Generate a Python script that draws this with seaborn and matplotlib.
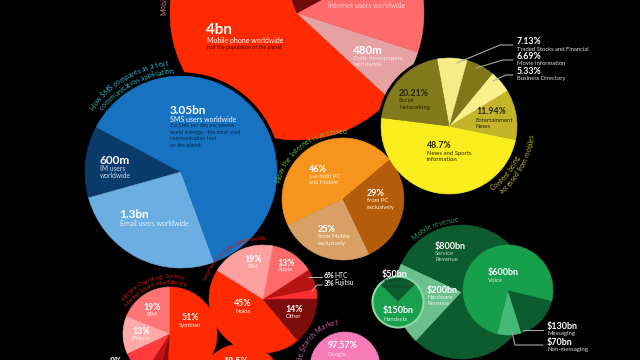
import numpy as np
import matplotlib
matplotlib.use("Agg")
import matplotlib.pyplot as plt
from matplotlib.patches import Circle
import seaborn as sns

media_labels = ["Mobile phones", "Daily newspapers", "Internet users", "Other"]
media_values = [4000, 480, 900, 1600]          # millions

sms_labels = ["IM", "Email", "SMS"]
sms_values = [600, 1300, 3050]                 # millions of users

access_labels = ["PC and Mobile", "Mobile only", "PC only"]
access_values = [46, 25, 29]                   # %

content_labels = ["News and Sports", "Entertainment News", "Business Directory",
                  "Movie Information", "Traded Stocks and Financial", "Social Networking"]
content_values = [48.7, 11.94, 5.33, 6.69, 7.13, 20.21]

revenue_labels = ["Hardware", "Service"]
revenue_values = [200, 800]                    # $bn
hardware_labels = ["Network Infrastructure", "Handsets"]
hardware_values = [50, 150]
service_labels = ["Non-messaging", "Messaging", "Voice"]
service_values = [70, 130, 600]

phone_labels = ["Nokia", "Other", "Fujitsu", "HTC", "Apple", "RIM"]
phone_values = [45, 14, 3, 6, 13, 19]

os_labels = ["RIM", "iPhone", "Windows Mobile", "Linux", "Other", "Symbian"]
os_values = [19, 13, 9, 5, 3, 51]

browser_values = [100]

search_labels = ["Other", "Google"]
search_values = [2.43, 97.57]

# --- colours ---
media_colors = ["#ff2a00", "#e6a2a2", "#ff6b6b", "#6e0a0a"]
sms_colors = ["#0b3b6b", "#6baee2", "#1872c2"]
access_colors = ["#f7941d", "#d9a066", "#b35d0a"]
content_colors = ["#f8ee1e", "#c4b42a", "#f9f08c", "#817618", "#f6eb86", "#827a1c"]
revenue_colors = ["#6cc08c", "#0d5c2d"]
hardware_colors = ["#0d5c2d", "#18a04c"]
service_colors = ["#45b978", "#0d5c2d", "#16a04c"]
phone_colors = ["#ff2a00", "#7d0c0c", "#ff2f2f", "#b71414", "#ff6b6b", "#ffa0a0"]
os_colors = ["#ff7575", "#ffaaaa", "#ff3b3b", "#c41212", "#8a0c0c", "#ff2a00"]
browser_colors = ["#ff2a00"]
search_colors = ["#c9589a", "#f57cb9"]

sns.set_theme(style="dark", rc={"axes.facecolor": "black", "figure.facecolor": "black"})
plt.rcParams["font.family"] = ["Lato", "DejaVu Sans"]

fig = plt.figure(figsize=(6.4, 3.6), dpi=100)
ax = fig.add_axes([0, 0, 1, 1])
W, H = 640, 360


def Y(y):
    # picture pixels (y down) -> data units (y up)
    return H - y


def pie(values, colors, cx, cy, r, start, z, halo=0):
    if halo:
        ax.add_patch(Circle((cx, Y(cy)), r + halo, color="black", zorder=z - 0.5))
    wedges, _ = ax.pie(values, colors=colors, startangle=start, radius=r,
                       center=(cx, Y(cy)), counterclock=True, frame=True,
                       wedgeprops=dict(zorder=z))
    for w in wedges:
        w.set_edgecolor(w.get_facecolor())
        w.set_linewidth(0.4)
    return wedges


def label(x, y, s, size, color="white", weight="normal", ha="left"):
    ax.text(x, Y(y), s, fontsize=size, color=color, fontweight=weight,
            ha=ha, va="center", zorder=30)


def arc_text(s, cx, cy, r, ang, size, color, anchor="mid", ccw=False):
    ren = fig.canvas.get_renderer()

    def width(t):
        tt = ax.text(0, 0, t, fontsize=size)
        w = tt.get_window_extent(ren).width
        tt.remove()
        return w

    bar = width("||")
    adv = [width("|" + ch + "|") - bar for ch in s]
    total = sum(adv)
    pos = {"mid": -total / 2, "start": 0, "end": -total}[anchor]
    sign = 1 if ccw else -1
    for ch, a in zip(s, adv):
        th = np.radians(ang) + sign * (pos + a / 2) / r
        x = cx + r * np.cos(th)
        y = Y(cy) + r * np.sin(th)
        pos += a
        # letters lying wholly off the canvas are never seen
        if x < -4 or x > W + 4 or y < -4 or y > H + 4:
            continue
        rot = np.degrees(th) + (90 if ccw else -90)
        ax.text(x, y, ch, fontsize=size, color=color, rotation=rot,
                rotation_mode="anchor", ha="center", va="baseline", zorder=30)


# --- circles ---
pie(media_values, media_colors, 297, 13, 127, 111, 1)
pie(sms_values, sms_colors, 181, 172, 96, 152, 3, halo=3)
pie(access_values, access_colors, 343, 199, 61, 40, 3, halo=2)
pie(content_values, content_colors, 449, 126, 68, 173, 3, halo=2.5)
pie(revenue_values, revenue_colors, 462, 292, 67, 155, 3)
pie(service_values, service_colors, 508, 290, 45, 256, 5)
pie(hardware_values, hardware_colors, 398, 302, 25, 45, 6)
ax.add_patch(Circle((398, Y(302)), 25.5, fill=False, ec="#8fd6a8", lw=1.5, zorder=6.5))
pie(browser_values, browser_colors, 241, 385, 41, 90, 3)
pie(os_values, os_colors, 170, 334, 47, 90, 4)
pie(phone_values, phone_colors, 263, 299, 54, 148, 3)
pie(search_values, search_colors, 345, 367, 35, -94.4, 3)

# --- mobile vs media ---
label(328, -3.5, "1.73bn", 8.3, weight="bold")
label(328, 5, "Internet users worldwide", 5, "#ffd0d0")
label(206, 30, "4bn", 11, weight="bold")
label(207, 40.5, "Mobile phone worldwide", 5)
label(207, 47, "half the population of the planet", 3.8, "#4a0000")
label(353, 51, "480m", 8.3, weight="bold")
label(353, 58.5, "Daily newspapers", 4.6, "#ffe4e4")
label(353, 64.5, "worldwide", 4.6, "#ffe4e4")
arc_text("Mobile phones compared to other media", 297, 13, 131, 181, 5, "#e57d8d", anchor="start")

# --- SMS ---
label(170, 111, "3.05bn", 8.5, weight="bold")
label(170, 120, "SMS users worldwide", 5, "#eaf3fb")
for yy, t in zip([125.7, 132.3, 139, 145.3],
                 ["2.6 SMS per day per person", "world average - the most used",
                  "communication tool", "on the planet"]):
    label(170, yy, t, 3.8, "#082848")
label(100, 160, "600m", 8.5, weight="bold")
label(100, 168.3, "IM users", 4.8, "#c9d9ec")
label(100, 175, "worldwide", 4.8, "#c9d9ec")
label(119, 215, "1.3bn", 8.5, weight="bold")
label(120, 224, "Email users worldwide", 5, "#e6f0fa")
arc_text("How SMS compares as a text", 181, 172, 107, 121, 5, "#33b6c6")
arc_text("communication application", 181, 172, 99, 118, 5, "#33b6c6")

# --- internet access ---
label(309, 170, "46%", 6.5, weight="bold")
label(309, 177, "use both PC", 4.2, "#fff0dd")
label(309, 183, "and Mobile", 4.2, "#fff0dd")
label(367, 193, "29%", 6.5, weight="bold")
label(367, 200.7, "from PC", 4.2, "#fff0dd")
label(367, 207.3, "exclusively", 4.2, "#fff0dd")
label(318, 229.5, "25%", 6.5, weight="bold")
label(318, 236.7, "from Mobile", 4.2, "#fff0dd")
label(318, 243.3, "exclusively", 4.2, "#fff0dd")
arc_text("How the Internet is accessed", 343, 199, 65, 126, 5, "#82c043")

# --- content from mobiles ---
dark = "#2a2600"
label(399, 94, "20.21%", 6.3, dark, "bold")
label(399, 101, "Social", 4.3, dark)
label(399, 107.7, "Networking", 4.3, dark)
label(476, 112, "11.94%", 6.3, dark, "bold")
label(476, 120, "Entertainment", 4.3, dark)
label(476, 126, "News", 4.3, dark)
label(427, 146, "48.7%", 6.3, dark, "bold")
label(427, 153.3, "News and Sports", 4.3, dark)
label(427, 159.3, "information", 4.3, dark)
for yv, v, t in zip([42, 56.5, 71.5], ["7.13%", "6.69%", "5.33%"],
                    ["Traded Stocks and Financial", "Movie Information", "Business Directory"]):
    label(517, yv, v, 6.3, weight="bold")
    label(517, yv + 7.2, t, 4.2, "#dddddd")
for xs, ys in [([457, 500, 513], [63, 45, 45]),
               ([476, 503, 513], [68, 60, 60]),
               ([493, 506, 513], [81, 75, 75])]:
    ax.plot(xs, [Y(v) for v in ys], color="#a8a8a8", lw=0.8, zorder=20)
arc_text("Content being", 449, 126, 78, -40, 5, "#c4b83a", ccw=True)
arc_text("accessed from mobiles", 449, 126, 86, -29, 5, "#c4b83a", ccw=True)

# --- mobile revenue ---
label(435, 246, "$800bn", 6.5, weight="bold")
label(435, 253.3, "Service", 4.3, "#b6dcc4")
label(435, 259.3, "Revenue", 4.3, "#b6dcc4")
label(382, 275, "$50bn", 6.5, weight="bold")
label(382, 281, "Network", 3.6, "#0d3d20")
label(382, 286, "Infrastructure", 3.6, "#0d3d20")
label(383, 311, "$150bn", 6.5, weight="bold")
label(383, 319.3, "Handsets", 4.2, "#d6f0de")
label(427, 291, "$200bn", 6.5, weight="bold")
label(427, 297.3, "Hardware", 4.2, "#e3f5e9")
label(427, 303.3, "Revenue", 4.2, "#e3f5e9")
label(488, 272.5, "$600bn", 6.5, weight="bold")
label(488, 280, "Voice", 4.3, "#d6f0de")
label(547, 327, "$130bn", 6.5, weight="bold")
label(547, 334, "Messaging", 4.3, "#dddddd")
label(547, 342, "$70bn", 6.5, weight="bold")
label(547, 349, "Non-messaging", 4.3, "#dddddd")
ax.plot([523, 543], [Y(330), Y(330)], color="#a8a8a8", lw=0.8, zorder=20)
ax.plot([512, 515, 543], [Y(332), Y(345), Y(345)], color="#a8a8a8", lw=0.8, zorder=20)
arc_text("Mobile revenue", 462, 292, 70, 113, 5, "#2d9c5a")

# --- smartphone sales ---
label(253, 259.5, "19%", 6.3, weight="bold", ha="center")
label(253, 266.7, "RIM", 4.3, "#fff0f0", ha="center")
label(286, 263, "13%", 6.3, weight="bold", ha="center")
label(286, 270, "Apple", 4.3, "#fff0f0", ha="center")
label(243, 303, "45%", 6.3, weight="bold", ha="center")
label(243, 311.7, "Nokia", 4.3, "#fff0f0", ha="center")
label(294, 309, "14%", 6.3, weight="bold", ha="center")
label(294, 316.7, "Other", 4.3, "#fff0f0", ha="center")
label(324, 275, "6%", 5.5, weight="bold")
label(334, 275, "HTC", 4.8)
label(324, 283, "3%", 5.5, weight="bold")
label(334, 283, "Fujitsu", 4.8)
ax.plot([308, 322], [Y(277), Y(277)], color="#a8a8a8", lw=0.8, zorder=20)
ax.plot([312, 317, 322], [Y(291), Y(285), Y(285)], color="#a8a8a8", lw=0.8, zorder=20)
arc_text("Smartphone Sales Worldwide", 263, 299, 59, 125, 4.3, "#d0191d")

# --- mobile OS ---
label(152, 307, "19%", 6.3, weight="bold", ha="center")
label(152, 314.3, "RIM", 4.3, "#fff0f0", ha="center")
label(141, 332, "13%", 6.3, weight="bold", ha="center")
label(141, 338.3, "iPhone", 4.3, "#fff0f0", ha="center")
label(190, 318, "51%", 6.3, weight="bold", ha="center")
label(190, 326, "Symbian", 4.3, "#fff0f0", ha="center")
label(110, 361, "9%", 6.3, weight="bold")
arc_text("Mobile Operating System", 170, 334, 56, 110, 4.3, "#d81c1c")
arc_text("Market Share Worldwide", 170, 334, 50, 110, 4.3, "#d81c1c")

# --- bottom circles ---
label(236, 361, "18.5%", 6.3, weight="bold", ha="center")
label(328, 346, "97.57%", 6.3, weight="bold")
label(328, 354.3, "Google", 4.3, "#ffe0f0")
arc_text("Mobile Search Market", 345, 367, 43, 99, 5, "#d565a6", anchor="end")

ax.set_xlim(0, W)
ax.set_ylim(0, H)
ax.set_aspect("equal")
ax.axis("off")
fig.savefig("out.png", dpi=100, facecolor="black")
